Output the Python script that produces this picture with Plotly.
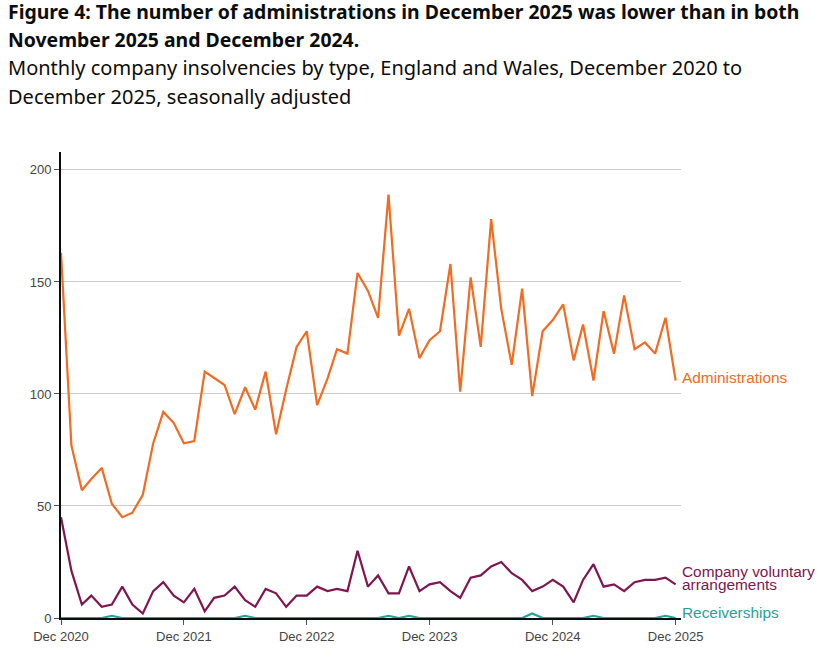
import pandas as pd
import plotly.graph_objects as go

months = pd.date_range("2020-12-01", periods=61, freq="MS")

administrations = [163, 77, 57, 62, 67, 51, 45, 47, 55, 78, 92, 87, 78, 79, 110, 107, 104, 91, 103, 93,
                   110, 82, 102, 121, 128, 95, 107, 120, 118, 154, 146, 134, 189, 126, 138, 116, 124, 128, 158, 101,
                   152, 121, 178, 138, 113, 147, 99, 128, 133, 140, 115, 131, 106, 137, 118, 144, 120, 123, 118, 134,
                   106]
cva = [45, 21, 6, 10, 5, 6, 14, 6, 2, 12, 16, 10, 7, 13, 3, 9, 10, 14, 8, 5,
       13, 11, 5, 10, 10, 14, 12, 13, 12, 30, 14, 19, 11, 11, 23, 12, 15, 16, 12, 9,
       18, 19, 23, 25, 20, 17, 12, 14, 17, 14, 7, 17, 24, 14, 15, 12, 16, 17, 17, 18,
       15]
receiverships = [0, 0, 0, 0, 0, 1, 0, 0, 0, 0, 0, 0, 0, 0, 0, 0, 0, 0, 1, 0,
                 0, 0, 0, 0, 0, 0, 0, 0, 0, 0, 0, 0, 1, 0, 1, 0, 0, 0, 0, 0,
                 0, 0, 0, 0, 0, 0, 2, 0, 0, 0, 0, 0, 1, 0, 0, 0, 0, 0, 0, 1,
                 0]

tick_dates = ["2020-12-01", "2021-12-01", "2022-12-01", "2023-12-01", "2024-12-01", "2025-12-01"]
tick_labels = ["Dec 2020", "Dec 2021", "Dec 2022", "Dec 2023", "Dec 2024", "Dec 2025"]
y_ticks = [0, 50, 100, 150, 200]

title_text = "Figure 4: The number of administrations in December 2025 was lower than in both"
title_text2 = "November 2025 and December 2024."
subtitle_text = "Monthly company insolvencies by type, England and Wales, December 2020 to"
subtitle_text2 = "December 2025, seasonally adjusted"

ORANGE = "#F26B21"
PURPLE = "#801650"
TEAL = "#28A197"

W, H = 821, 656
ML, MR, MT, MB = 61, 140, 152, 38
PW, PH = W - ML - MR, H - MT - MB

fig = go.Figure()
for name, vals, color in [("Administrations", administrations, ORANGE),
                          ("Company voluntary arrangements", cva, PURPLE),
                          ("Receiverships", receiverships, TEAL)]:
    fig.add_trace(go.Scatter(x=months, y=vals, mode="lines", name=name,
                             line=dict(color=color, width=2.2)))

label_font = "Liberation Sans, Arial"
end_labels = [
    ("Administrations", administrations[-1], ORANGE, 3),
    ("Company voluntary", cva[-1], PURPLE, 13),
    ("arrangements", cva[-1], PURPLE, 0),
    ("Receiverships", receiverships[-1], TEAL, 6),
]
for txt, yv, color, ysh in end_labels:
    fig.add_annotation(x=months[-1], y=yv, xref="x", yref="y", text=txt,
                       showarrow=False, xanchor="left", yanchor="middle", align="left",
                       xshift=4, yshift=ysh,
                       font=dict(family=label_font, size=15.4, color=color))

title_lines = [
    ("<b>" + title_text + "</b>", 12, 19.4),
    ("<b>" + title_text2 + "</b>", 39, 19.4),
    (subtitle_text, 68, 20),
    (subtitle_text2, 96, 20),
]
for txt, ypx, fs in title_lines:
    fig.add_annotation(x=(6 - ML) / PW, y=(H - MB - ypx) / PH, xref="paper", yref="paper",
                       xanchor="left", yanchor="middle", text=txt, showarrow=False,
                       font=dict(family="Noto Sans", size=fs, color="#0b0c0c"))

fig.update_layout(
    width=W, height=H,
    margin=dict(l=ML, r=MR, t=MT, b=MB),
    paper_bgcolor="white", plot_bgcolor="white",
    showlegend=False,
    font=dict(family="Liberation Sans, Arial", size=13, color="#444"),
)

fig.update_xaxes(
    range=["2020-12-01", "2025-12-17"],
    tickvals=tick_dates, ticktext=tick_labels,
    showgrid=False, showline=True, linecolor="#0b0c0c", linewidth=2,
    ticks="outside", ticklen=5, tickcolor="#555", tickwidth=1,
    tickfont=dict(size=13, color="#444"), layer="above traces", zeroline=False,
    automargin=False,
)
fig.update_yaxes(
    range=[0, 208], tickvals=y_ticks,
    showgrid=True, gridcolor="#cccccc", gridwidth=1,
    showline=True, linecolor="#0b0c0c", linewidth=2,
    ticks="outside", ticklen=5, tickcolor="#555", tickwidth=1,
    tickfont=dict(size=13, color="#444"), zeroline=False,
    automargin=False,
)

fig.write_html("out.html", config={"displayModeBar": False},
               post_script="document.body.style.margin='0';")
